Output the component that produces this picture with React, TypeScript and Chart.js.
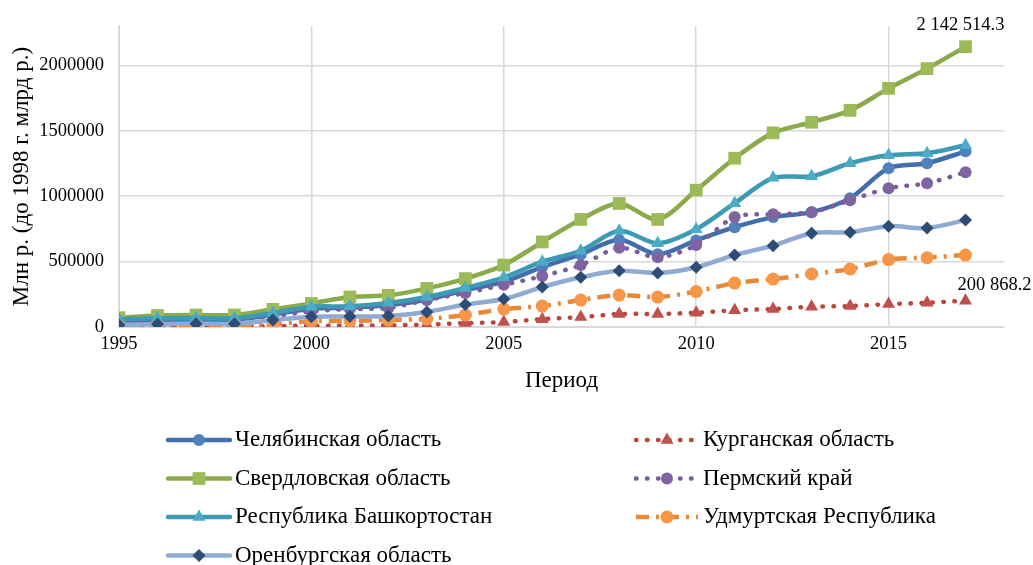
import React, { useEffect, useRef } from 'react';
import { Chart, registerables } from 'chart.js';

Chart.register(...registerables);

const years = [1995, 1996, 1997, 1998, 1999, 2000, 2001, 2002, 2003, 2004, 2005, 2006, 2007, 2008, 2009, 2010, 2011, 2012, 2013, 2014, 2015, 2016, 2017];

const chelyabinsk = [45000, 52000, 55000, 55000, 95000, 140000, 148000, 168000, 208000, 282000, 345000, 458000, 555000, 666000, 556000, 662000, 763000, 840000, 878000, 985000, 1214000, 1252000, 1343000];
const kurgan = [3000, 4000, 4000, 4000, 7000, 10000, 11000, 13000, 18000, 30000, 38000, 60000, 76000, 99000, 100000, 109000, 128000, 137000, 155000, 160000, 175000, 185000, 200868.2];
const sverdlovsk = [72000, 88000, 92000, 92000, 135000, 180000, 229000, 242000, 295000, 370000, 473000, 650000, 822000, 944000, 822000, 1046000, 1290000, 1484000, 1565000, 1656000, 1824000, 1975000, 2142514.3];
const perm = [35000, 40000, 43000, 43000, 80000, 120000, 137000, 145000, 206000, 260000, 322000, 389000, 473000, 605000, 533000, 626000, 840000, 862000, 878000, 969000, 1061000, 1099000, 1183000];
const bashkortostan = [58000, 66000, 68000, 68000, 107000, 155000, 158000, 183000, 229000, 298000, 380000, 499000, 582000, 735000, 640000, 747000, 946000, 1140000, 1152000, 1252000, 1313000, 1328000, 1389000];
const udmurtia = [6000, 8000, 9000, 9000, 20000, 44000, 46000, 53000, 62000, 92000, 137000, 160000, 206000, 244000, 229000, 271000, 336000, 366000, 405000, 443000, 515000, 530000, 550000];
const orenburg = [15000, 22000, 25000, 25000, 53000, 79000, 80000, 85000, 115000, 172000, 214000, 305000, 380000, 430000, 413000, 457000, 550000, 622000, 717000, 725000, 771000, 756000, 817000];

const seriesNames = [
  'Челябинская область',
  'Курганская область',
  'Свердловская область',
  'Пермский край',
  'Республика Башкортостан',
  'Удмуртская Республика',
  'Оренбургская область',
];
const seriesValues = [chelyabinsk, kurgan, sverdlovsk, perm, bashkortostan, udmurtia, orenburg];

const xTicks = [1995, 2000, 2005, 2010, 2015];
const yTicks = [0, 500000, 1000000, 1500000, 2000000];

const xTitle = 'Период';
const yTitle = 'Млн р. (до 1998 г. млрд р.)';

const FONT = '"Liberation Serif", "Times New Roman", serif';

type SeriesStyle = {
  line: string;
  marker: string;
  shape: 'circle' | 'rect' | 'triangle' | 'rectRot';
  radius: number;
  dash: number[];
  cap: CanvasLineCap;
  width: number;
};

const styles: SeriesStyle[] = [
  { line: '#416FAB', marker: '#4F81BD', shape: 'circle', radius: 6, dash: [], cap: 'round', width: 4.5 },
  { line: '#B9473F', marker: '#C0504D', shape: 'triangle', radius: 7.5, dash: [0.5, 10.5], cap: 'round', width: 4.5 },
  { line: '#8AAA4C', marker: '#9BBB59', shape: 'rect', radius: 9, dash: [], cap: 'round', width: 4.5 },
  { line: '#7A5C9C', marker: '#8064A2', shape: 'circle', radius: 6, dash: [0.5, 10.5], cap: 'round', width: 4.5 },
  { line: '#3C9AB4', marker: '#4BACC6', shape: 'triangle', radius: 7.5, dash: [], cap: 'round', width: 4.5 },
  { line: '#E8893A', marker: '#F79646', shape: 'circle', radius: 6.5, dash: [13, 7, 3, 7], cap: 'butt', width: 4.5 },
  { line: '#8FAAD3', marker: '#2C4D75', shape: 'rectRot', radius: 6.5, dash: [], cap: 'round', width: 4.5 },
];

function fmtLabel(v: number): string {
  const [i, d] = v.toFixed(1).split('.');
  return i.replace(/\B(?=(\d{3})+(?!\d))/g, ' ') + '.' + d;
}

function drawMarker(ctx: CanvasRenderingContext2D, s: SeriesStyle, x: number, y: number) {
  const r = s.radius;
  ctx.beginPath();
  if (s.shape === 'circle') {
    ctx.arc(x, y, r, 0, Math.PI * 2);
  } else if (s.shape === 'rect') {
    const h = Math.SQRT1_2 * r;
    ctx.rect(x - h, y - h, 2 * h, 2 * h);
  } else if (s.shape === 'triangle') {
    ctx.moveTo(x, y - r);
    ctx.lineTo(x + Math.sin((2 * Math.PI) / 3) * r, y - Math.cos((2 * Math.PI) / 3) * r);
    ctx.lineTo(x + Math.sin((4 * Math.PI) / 3) * r, y - Math.cos((4 * Math.PI) / 3) * r);
  } else {
    ctx.moveTo(x - r, y);
    ctx.lineTo(x, y - r);
    ctx.lineTo(x + r, y);
    ctx.lineTo(x, y + r);
  }
  ctx.closePath();
  ctx.fillStyle = s.marker;
  ctx.fill();
}

const overlayPlugin = {
  id: 'overlay',
  afterDraw(chart: any) {
    const ctx: CanvasRenderingContext2D = chart.ctx;
    const area = chart.chartArea;
    ctx.save();

    // data labels
    ctx.fillStyle = '#000';
    ctx.font = `18.5px ${FONT}`;
    ctx.textBaseline = 'middle';
    const sMeta = chart.getDatasetMeta(2);
    const sLast = sMeta.data[sMeta.data.length - 1];
    ctx.textAlign = 'center';
    ctx.fillText(fmtLabel(sverdlovsk[sverdlovsk.length - 1]), sLast.x - 5, sLast.y - 22);
    const kMeta = chart.getDatasetMeta(1);
    const kLast = kMeta.data[kMeta.data.length - 1];
    ctx.textAlign = 'left';
    ctx.fillText(fmtLabel(kurgan[kurgan.length - 1]), kLast.x - 8, kLast.y - 16);

    // axis titles
    ctx.font = `23px ${FONT}`;
    ctx.textAlign = 'center';
    ctx.fillText(xTitle, (area.left + area.right) / 2, 381);
    ctx.save();
    ctx.translate(22, (area.top + area.bottom) / 2);
    ctx.rotate(-Math.PI / 2);
    ctx.fillText(yTitle, 0, 0);
    ctx.restore();

    // legend
    seriesNames.forEach((name, i) => {
      const col = i % 2;
      const row = Math.floor(i / 2);
      const x0 = col === 0 ? 168 : 636;
      const len = 62;
      const y = 440 + row * 38.5;
      const s = styles[i];
      ctx.beginPath();
      ctx.setLineDash(s.dash);
      ctx.lineCap = s.cap;
      ctx.lineWidth = s.width;
      ctx.strokeStyle = s.line;
      ctx.moveTo(x0, y);
      ctx.lineTo(x0 + len, y);
      ctx.stroke();
      ctx.setLineDash([]);
      drawMarker(ctx, s, x0 + len / 2, y);
      ctx.fillStyle = '#000';
      ctx.font = `23px ${FONT}`;
      ctx.textAlign = 'left';
      ctx.fillText(name, x0 + len + 5, y);
    });

    ctx.restore();
  },
};

export default function App() {
  const ref = useRef<HTMLCanvasElement | null>(null);

  useEffect(() => {
    if (!ref.current) return;
    const datasets = seriesValues.map((vals, i) => {
      const s = styles[i];
      return {
        label: seriesNames[i],
        data: vals.map((v, k) => ({ x: years[k], y: v })),
        borderColor: s.line,
        backgroundColor: s.marker,
        borderWidth: s.width,
        borderDash: s.dash,
        borderCapStyle: s.cap,
        borderJoinStyle: 'round' as CanvasLineJoin,
        pointStyle: s.shape,
        pointRadius: s.radius,
        pointBorderWidth: 0,
        pointBorderColor: s.marker,
        pointBackgroundColor: s.marker,
        tension: 0.3,
        fill: false,
        order: seriesValues.length - i,
      };
    });

    const chart = new Chart(ref.current, {
      type: 'line',
      data: { datasets },
      options: {
        responsive: false,
        animation: false,
        layout: { padding: { left: 0, right: 29, top: 26, bottom: 0 } },
        plugins: {
          legend: { display: false },
          tooltip: { enabled: false },
        },
        scales: {
          x: {
            type: 'linear',
            min: 1995,
            max: 2018,
            afterBuildTicks: (axis: any) => {
              axis.ticks = xTicks.map((v) => ({ value: v }));
            },
            afterFit: (scale: any) => {
              scale.height = 565 - 327;
            },
            ticks: {
              callback: (v: any) => String(v),
              font: { family: FONT, size: 18.5 },
              color: '#000',
              padding: 6,
              maxRotation: 0,
            },
            grid: { color: '#D9D9D9', lineWidth: 1.5, drawTicks: false },
            border: { color: '#D9D9D9', width: 2 },
          },
          y: {
            type: 'linear',
            min: 0,
            max: 2300000,
            afterBuildTicks: (axis: any) => {
              axis.ticks = yTicks.map((v) => ({ value: v }));
            },
            afterFit: (scale: any) => {
              scale.width = 119;
            },
            ticks: {
              callback: (v: any) => String(v),
              font: { family: FONT, size: 18.5 },
              color: '#000',
              padding: 15,
            },
            grid: { color: '#D9D9D9', lineWidth: 1.5, drawTicks: false },
            border: { color: '#D9D9D9', width: 2 },
          },
        },
      },
      plugins: [overlayPlugin],
    });
    return () => chart.destroy();
  }, []);

  return (
    <div style={{ position: 'absolute', left: 0, top: 0, width: 1033, height: 565, background: '#fff' }}>
      <canvas ref={ref} width={1033} height={565} style={{ display: 'block' }} />
    </div>
  );
}
